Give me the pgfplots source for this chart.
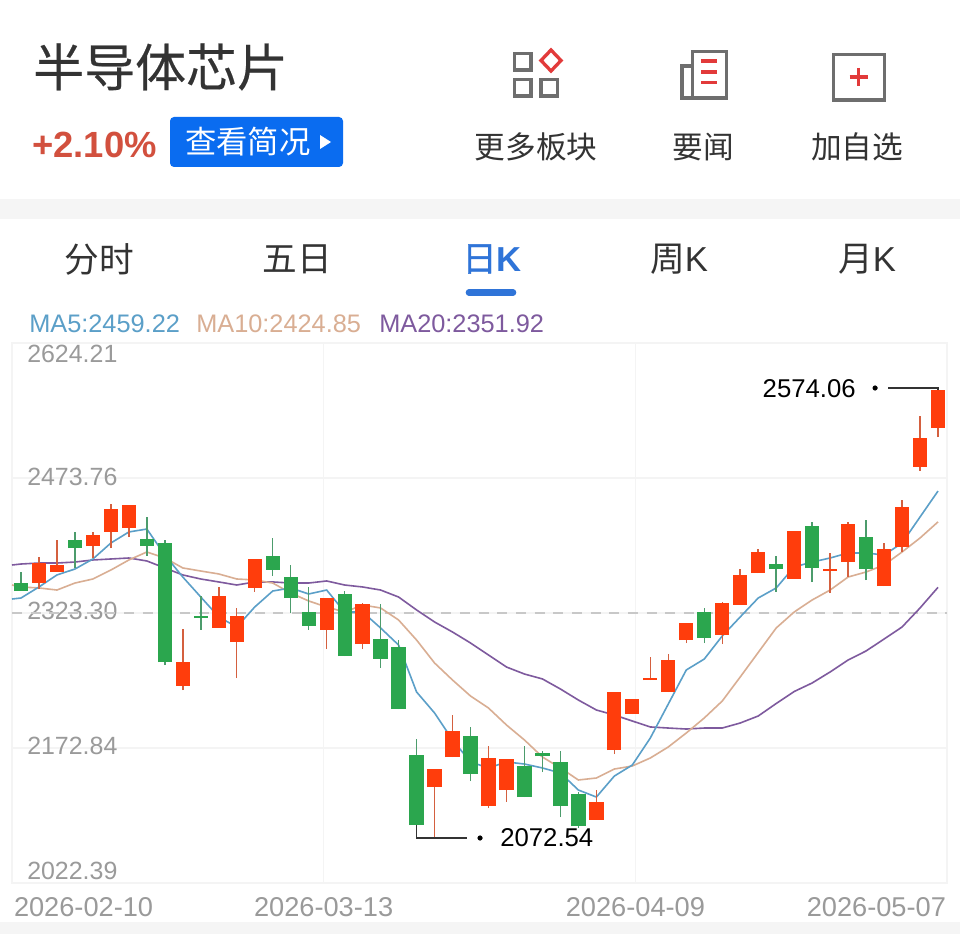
\documentclass[border=0pt]{standalone}
\usepackage{pgfplots}
\usepackage{pgfplotstable}
\usepackage{fontspec}
\pgfplotsset{compat=1.18}
\setmainfont{Liberation Sans}
\newfontfamily\cjk{Noto Sans CJK SC}
\newfontfamily\cjkb[FakeBold=0.35]{Noto Sans CJK SC}
\newfontfamily\cjkB[FakeBold=1.2]{Noto Sans CJK SC}
\definecolor{cRed}{HTML}{FF3D0C}
\definecolor{cRedW}{HTML}{D4603F}
\definecolor{cGreen}{HTML}{2BA64E}
\definecolor{cGreenW}{HTML}{4C9C6C}
\definecolor{cMAa}{HTML}{5B9FC8}
\definecolor{cMAb}{HTML}{D9AE93}
\definecolor{cMAc}{HTML}{7E5A9E}
\definecolor{cGrid}{HTML}{F4F4F4}
\definecolor{cBand}{HTML}{F5F5F5}
\definecolor{cDash}{HTML}{C8C8C8}
\definecolor{cIcon}{HTML}{6E6E6E}
\definecolor{cIconR}{HTML}{E23A3A}
\definecolor{cTick}{HTML}{9A9A9A}
\definecolor{cBlue}{HTML}{0A6CF0}
\definecolor{cTab}{HTML}{2F74D8}
\definecolor{cPct}{HTML}{D2503E}
\definecolor{cText}{HTML}{333333}
\pgfplotstableread{
k lo bot top hi
1 2350.05 2356.74 2379.03 2385.71
2 2369.0 2369.0 2376.8 2404.66
4 2384.6 2397.97 2410.23 2413.58
5 2395.74 2413.58 2439.21 2444.78
6 2408.0 2418.03 2443.67 2443.67
9 2237.49 2241.95 2268.69 2305.47
11 2306.59 2306.59 2342.25 2352.28
12 2250.86 2290.98 2319.96 2328.88
13 2346.71 2351.17 2383.48 2383.48
17 2283.18 2304.36 2340.02 2340.02
19 2283.18 2288.75 2333.33 2334.45
23 2072.54 2129.38 2149.44 2149.44
24 2162.82 2162.82 2191.8 2209.63
26 2105.98 2108.21 2161.7 2175.08
27 2112.67 2126.04 2160.59 2160.59
32 2092.61 2092.61 2112.67 2126.04
33 2166.16 2170.62 2235.26 2235.26
34 2210.74 2210.74 2227.46 2227.46
35 2248.63 2248.63 2250.86 2274.27
36 2235.26 2235.26 2270.92 2277.61
37 2289.87 2293.21 2312.16 2312.16
39 2288.75 2298.79 2334.45 2335.56
40 2332.22 2332.22 2365.65 2372.34
41 2367.88 2367.88 2391.29 2394.63
43 2361.2 2361.2 2414.69 2414.69
45 2345.59 2370.1 2372.34 2390.17
46 2363.43 2380.14 2422.49 2424.72
48 2353.39 2353.39 2394.63 2401.32
49 2391.29 2396.86 2441.44 2449.24
50 2481.56 2486.02 2518.34 2542.86
51 2519.45 2529.48 2571.83 2574.06
}\redT
\pgfplotstableread{
k lo bot top hi
0 2347.82 2347.82 2356.74 2369.0
3 2373.45 2395.74 2404.66 2413.58
7 2386.83 2397.97 2405.78 2430.29
8 2265.35 2268.69 2401.32 2404.66
10 2304.36 2317.73 2319.96 2342.25
14 2364.54 2371.23 2386.83 2406.89
15 2323.30 2340.02 2363.43 2376.8
16 2304.36 2308.82 2324.42 2352.28
18 2275.38 2275.38 2344.48 2347.82
20 2262.01 2272.04 2294.33 2333.33
21 2216.31 2216.31 2285.41 2293.21
22 2087.03 2087.03 2165.05 2182.88
25 2136.07 2143.87 2186.22 2196.25
28 2118.24 2118.24 2152.79 2175.08
29 2146.1 2163.93 2167.28 2169.51
30 2095.95 2108.21 2157.25 2169.51
31 2083.69 2085.92 2121.58 2123.81
38 2289.87 2295.44 2324.42 2328.88
42 2346.71 2372.34 2377.91 2386.83
44 2357.85 2373.45 2420.26 2424.72
47 2360.08 2372.34 2408.0 2426.95
}\greenT
\pgfplotstableread{
k ma5 ma10 ma20
-0.5 2338.9 2354.5 2376.8
0 2340.0 2352.3 2377.9
1 2352.3 2351.2 2379.0
2 2365.7 2348.9 2379.0
3 2372.3 2356.7 2380.1
4 2383.5 2361.2 2382.4
5 2401.3 2371.2 2383.5
6 2413.6 2382.4 2384.6
7 2416.9 2391.3 2381.3
8 2387.9 2384.6 2373.5
9 2363.4 2373.5 2365.7
10 2341.1 2370.1 2361.2
11 2318.9 2366.8 2357.9
12 2307.7 2361.2 2354.5
13 2330.0 2360.1 2357.9
14 2347.8 2356.7 2357.9
15 2351.2 2345.6 2356.7
16 2344.5 2336.7 2356.7
17 2348.9 2330.0 2359.0
18 2324.4 2324.4 2354.5
19 2324.4 2332.2 2352.3
20 2306.6 2328.9 2348.9
21 2287.6 2315.5 2341.1
22 2235.3 2293.2 2326.7
23 2211.9 2267.6 2313.3
24 2181.8 2248.6 2302.1
25 2157.3 2230.8 2289.9
26 2150.6 2217.4 2276.5
27 2157.3 2198.5 2263.1
28 2155.0 2181.8 2255.3
29 2150.6 2162.8 2249.8
30 2145.0 2150.6 2238.6
31 2126.0 2137.2 2226.3
32 2118.2 2139.4 2215.2
33 2141.6 2149.4 2209.6
34 2153.9 2152.8 2202.9
35 2184.0 2161.7 2196.3
36 2221.9 2174.0 2195.1
37 2259.8 2189.6 2194.0
38 2272.0 2206.3 2195.1
39 2297.7 2225.2 2195.1
40 2318.9 2252.0 2200.7
41 2340.0 2279.3 2208.5
42 2351.2 2306.6 2222.4
43 2374.6 2324.4 2235.8
44 2380.1 2337.8 2245.3
45 2384.6 2348.9 2257.6
46 2390.2 2363.4 2270.9
47 2390.2 2369.0 2281.0
48 2387.9 2376.8 2294.3
49 2401.3 2391.3 2307.7
50 2430.3 2406.9 2328.9
51 2459.22 2424.85 2351.92
}\maT
\begin{document}
\begin{tikzpicture}
\useasboundingbox (0,0) rectangle (720pt,-700.5pt);
\begin{scope}[x=0.75pt,y=-0.75pt]
\fill[white] (0,0) rectangle (960,934);
\fill[cBand] (0,199) rectangle (960,219);
\fill[cBand] (0,922) rectangle (960,934);
\node[anchor=west,inner sep=0pt,text=cText,font=\cjkb\fontsize{38.2pt}{40pt}\selectfont] at (33,67) {半导体芯片};
\node[anchor=west,inner sep=0pt,text=cPct,font=\bfseries\fontsize{27.3pt}{30pt}\selectfont] at (32,145) {+2.10\%};
\fill[cBlue,rounded corners=3pt] (170,117) rectangle (343,167);
\node[anchor=west,inner sep=0pt,text=white,font=\cjk\fontsize{23.5pt}{26pt}\selectfont] at (185,142) {查看简况};
\fill[white] (320,135) -- (331,142) -- (320,149) -- cycle;
% icons
\begin{scope}[line width=2.5pt]
\draw[cIcon] (514.5,53.5) rectangle (531,70);
\draw[cIcon] (514.5,79.5) rectangle (531,96);
\draw[cIcon] (541,79.5) rectangle (557.5,96);
\draw[cIconR] (551,50) -- (561,60.5) -- (551,71) -- (541,60.5) -- cycle;
\draw[cIcon] (692.5,51.5) rectangle (726.5,98);
\draw[cIcon] (692.5,66) -- (682,66) -- (682,98) -- (692.5,98);
\draw[cIconR] (701,61) -- (717,61);
\draw[cIconR] (701,72) -- (717,72);
\draw[cIconR] (701,82.5) -- (717,82.5);
\draw[cIcon] (833.5,54.5) rectangle (884.5,100);
\draw[cIconR] (849.5,77) -- (867.5,77);
\draw[cIconR] (858.5,68) -- (858.5,86);
\end{scope}
\begin{scope}[every node/.style={inner sep=0pt,text=cText,font=\cjk\fontsize{23pt}{26pt}\selectfont}]
\node at (536,147) {更多板块};
\node at (703,147) {要闻};
\node at (857,147) {加自选};
\end{scope}
\begin{scope}[every node/.style={inner sep=0pt,text=cText,font=\cjk\fontsize{26pt}{29pt}\selectfont}]
\node at (99,259) {分时};
\node at (297,259) {五日};
\node[text=cTab] at (492,259) {{\cjkB\fontsize{26pt}{29pt}\selectfont 日}\textbf{\fontspec{Liberation Sans}K}};
\node at (679,259) {周{\fontspec{Liberation Sans}K}};
\node at (867,259) {月{\fontspec{Liberation Sans}K}};
\end{scope}
\draw[cTab,line width=5pt,line cap=round] (469,292.5) -- (513,292.5);
\begin{scope}[every node/.style={anchor=west,inner sep=0pt,font=\fontsize{19pt}{21pt}\selectfont}]
\node[text=cMAa] at (29,324) {MA5:2459.22};
\node[text=cMAb] at (196,324) {MA10:2424.85};
\node[text=cMAc] at (379,324) {MA20:2351.92};
\end{scope}
\end{scope}
\begin{axis}[
  at={(9pt,-662.25pt)},anchor=south west,
  scale only axis,width=701.25pt,height=405pt,
  xmin=-0.5,xmax=51.5,ymin=2022.39,ymax=2624.21,
  axis line style={cGrid,line width=0.8pt},
  grid=major,major grid style={cGrid,line width=0.8pt},
  major tick length=0pt,
  xtick={-0.5,16.83,34.17,51.5},
  xticklabels={\makebox[0pt][l]{\hspace{1.5pt}2026-02-10},2026-03-13,2026-04-09,\makebox[0pt][r]{2026-05-07\hspace{0.8pt}}},
  ytick={2022.39,2172.84,2323.30,2473.76,2624.21},
  yticklabels={\raisebox{2.3pt}[0pt][0pt]{2022.39},\raisebox{-5.2pt}[0pt][0pt]{2172.84},\raisebox{-5.2pt}[0pt][0pt]{2323.30},\raisebox{-5.95pt}[0pt][0pt]{2473.76},\raisebox{-14.95pt}[0pt][0pt]{2624.21}},
  x tick label style={anchor=north,inner sep=0pt,yshift=-10.7pt,text=cTick,font=\fontsize{20.4pt}{22pt}\selectfont},
  y tick label style={anchor=west,inner sep=0pt,xshift=11.25pt,text=cTick,font=\fontsize{18.7pt}{21pt}\selectfont},
]
\addplot[cDash,line width=0.9pt,dash pattern=on 7.5pt off 6.5pt,forget plot] coordinates {(-0.5,2323.30) (51.5,2323.30)};
\addplot[cMAc,line width=1.2pt] table[x=k,y=ma20] {\maT};
\addplot[cMAb,line width=1.2pt] table[x=k,y=ma10] {\maT};
\addplot[cMAa,line width=1.2pt] table[x=k,y=ma5] {\maT};
% wicks
\addplot[draw=none,forget plot,error bars/.cd,y dir=plus,y explicit,error mark=none,error bar style={draw=cRedW,line width=1.1pt}]
  table[x=k,y=lo,y error plus expr=\thisrow{hi}-\thisrow{lo}] {\redT};
\addplot[draw=none,forget plot,error bars/.cd,y dir=plus,y explicit,error mark=none,error bar style={draw=cGreenW,line width=1.1pt}]
  table[x=k,y=lo,y error plus expr=\thisrow{hi}-\thisrow{lo}] {\greenT};
% bodies
\addplot[draw=none,forget plot,error bars/.cd,y dir=plus,y explicit,error mark=none,error bar style={draw=cRed,line width=10.7pt}]
  table[x=k,y=bot,y error plus expr=\thisrow{top}-\thisrow{bot}] {\redT};
\addplot[draw=none,forget plot,error bars/.cd,y dir=plus,y explicit,error mark=none,error bar style={draw=cGreen,line width=10.7pt}]
  table[x=k,y=bot,y error plus expr=\thisrow{top}-\thisrow{bot}] {\greenT};
% extreme annotations
\addplot[black!80,line width=0.8pt,forget plot] coordinates {(22,2087.03) (22,2072.54) (24.8,2072.54)};
\addplot[black!80,line width=0.8pt,forget plot] coordinates {(48.22,2574.06) (51,2574.06) (51,2571.83)};
\addplot[only marks,mark=*,mark size=1.7pt,black,forget plot] coordinates {(25.53,2072.54) (47.5,2574.06)};
\node[anchor=west,inner sep=0pt,text=black,font=\fontsize{19.3pt}{21pt}\selectfont] at (axis cs:26.64,2072.54) {2072.54};
\node[anchor=east,inner sep=0pt,text=black,font=\fontsize{19.3pt}{21pt}\selectfont] at (axis cs:46.44,2573) {2574.06};
\end{axis}
\end{tikzpicture}
\end{document}
